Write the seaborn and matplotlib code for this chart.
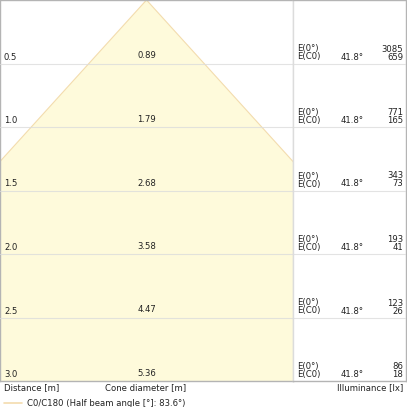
import matplotlib
matplotlib.use("Agg")
import matplotlib.pyplot as plt
from matplotlib.lines import Line2D
import seaborn as sns
import pandas as pd

# cone diagram values
distances = [0.5, 1.0, 1.5, 2.0, 2.5, 3.0]
diameters = [0.89, 1.79, 2.68, 3.58, 4.47, 5.36]
e_center = [3085, 771, 343, 193, 123, 86]
e_c0 = [659, 165, 73, 41, 26, 18]
half_angle = 41.8
beam_angle = 83.6
legend_label = "C0/C180 (Half beam angle [°]: %.1f°)" % beam_angle

sns.set_style("white")
plt.rcParams['font.family'] = ['DejaVu Sans']
fs = 6.1
txt_c = '#222222'
grid_c = '#dcdcdc'
frame_c = '#b4b4b4'
fill_c = '#fefadb'
edge_c = '#f3dcae'

W = 407
fig = plt.figure(figsize=(W / 100, W / 100), dpi=100)
bottom = (W - 381) / W
height = 381 / W
ax = fig.add_axes([0, bottom, 293 / W, height])
axt = fig.add_axes([293 / W, bottom, 113 / W, height])

# cone from apex to the last distance
last_d = distances[-1]
last_r = diameters[-1] / 2
cone = pd.DataFrame({'x': [-last_r, 0, last_r], 'y': [last_d, 0, last_d]})
ax.fill(cone['x'], cone['y'], color=fill_c, lw=0, zorder=1)
sns.lineplot(data=cone, x='x', y='y', sort=False, estimator=None,
             color=edge_c, lw=0.8, ax=ax, zorder=2)

half = 1.136
ax.set_xlim(-half, half)
for a in (ax, axt):
    a.set_ylim(last_d, 0)
    a.set_xticks([])
    a.set_yticks([])
    a.set_xlabel('')
    a.set_ylabel('')
    for d in distances:
        a.axhline(d, color=grid_c, lw=0.8, alpha=0.8, zorder=3)
    for s in a.spines.values():
        s.set_color(frame_c)
        s.set_linewidth(1.0)
axt.set_xlim(0, 1)
ax.spines['right'].set_color(grid_c)
axt.spines['left'].set_color(grid_c)

for d, dia, e0, ec in zip(distances, diameters, e_center, e_c0):
    ax.annotate('%.1f' % d, (0, d), xycoords=('axes fraction', 'data'),
                xytext=(4, 2), textcoords='offset pixels', fontsize=fs,
                ha='left', va='bottom', color=txt_c)
    ax.annotate('%.2f' % dia, (0, d), xytext=(0, 3), textcoords='offset pixels',
                fontsize=fs, ha='center', va='bottom', color=txt_c)
    axt.annotate('E(0°)', (0, d), xytext=(4, 10), textcoords='offset pixels',
                 fontsize=fs, ha='left', va='bottom', color=txt_c)
    axt.annotate('E(C0)', (0, d), xytext=(4, 2), textcoords='offset pixels',
                 fontsize=fs, ha='left', va='bottom', color=txt_c)
    axt.annotate('%.1f°' % half_angle, (0.52, d), xytext=(0, 2),
                 textcoords='offset pixels', fontsize=fs, ha='center',
                 va='bottom', color=txt_c)
    axt.annotate(str(e0), (1, d), xytext=(-3, 10), textcoords='offset pixels',
                 fontsize=fs, ha='right', va='bottom', color=txt_c)
    axt.annotate(str(ec), (1, d), xytext=(-3, 2), textcoords='offset pixels',
                 fontsize=fs, ha='right', va='bottom', color=txt_c)

yb = (W - 388) / W
fig.text(4 / W, yb, 'Distance [m]', fontsize=fs, ha='left', va='center', color=txt_c)
fig.text(146 / W, yb, 'Cone diameter [m]', fontsize=fs, ha='center', va='center', color=txt_c)
fig.text(403 / W, yb, 'Illuminance [lx]', fontsize=fs, ha='right', va='center', color=txt_c)

yl = (W - 403) / W
fig.add_artist(Line2D([4 / W, 22 / W], [yl, yl], color=edge_c, lw=1.2,
                      transform=fig.transFigure))
fig.text(27 / W, yl, legend_label, fontsize=fs, ha='left', va='center', color=txt_c)

fig.savefig('out.png', dpi=100)
